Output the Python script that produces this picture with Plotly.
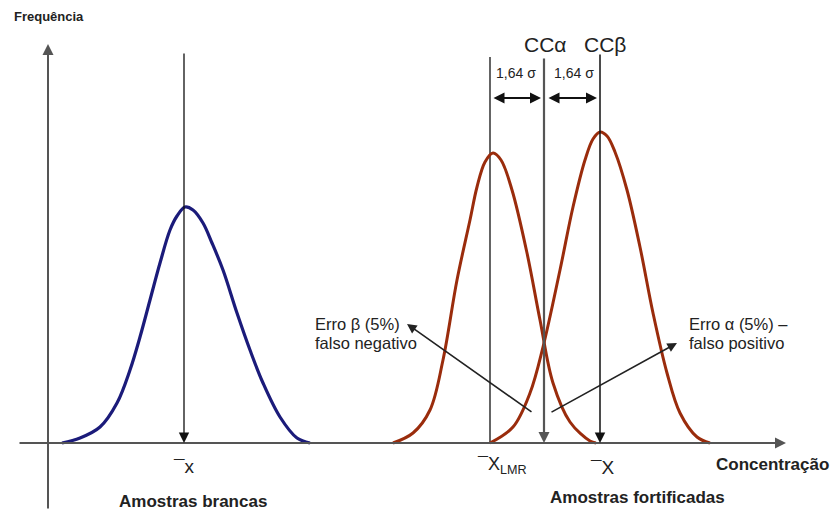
import plotly.graph_objects as go

# ---- data (pixel space: x right, y down) ----
blank_x = [62, 80, 100, 117, 130, 140, 150, 160, 170, 177, 185, 193, 203, 212, 223, 237, 250, 263, 280, 297, 310]
blank_y = [443, 438, 427, 403, 370, 337, 300, 263, 230, 216, 207, 210, 223, 243, 270, 313, 350, 383, 417, 438, 443]

lmr_x = [393, 413, 430, 443, 457, 470, 477, 485, 493, 501, 512, 527, 540, 553, 570, 590, 596]
lmr_y = [443, 433, 410, 360, 280, 220, 187, 162, 153, 160, 190, 253, 320, 383, 422, 441, 443]

fort_x = [490, 513, 530, 543, 560, 573, 585, 593, 600, 607, 615, 627, 640, 653, 667, 680, 697, 710]
fort_y = [443, 427, 393, 347, 270, 207, 160, 139, 132, 136, 152, 190, 247, 313, 373, 413, 437, 443]

BASE_Y = 443
X_BLANK, X_LMR, X_CCA, X_CCB = 184, 490, 544, 600

fig = go.Figure()

fig.add_trace(go.Scatter(x=blank_x, y=blank_y, mode="lines",
                         line=dict(color="#1b1b7a", width=3.2, shape="spline", smoothing=1.0),
                         hoverinfo="skip"))
fig.add_trace(go.Scatter(x=lmr_x, y=lmr_y, mode="lines",
                         line=dict(color="#9a2c0c", width=3, shape="spline", smoothing=1.0),
                         hoverinfo="skip"))
fig.add_trace(go.Scatter(x=fort_x, y=fort_y, mode="lines",
                         line=dict(color="#9a2c0c", width=3, shape="spline", smoothing=1.0),
                         hoverinfo="skip"))

shapes = []
shapes.append(dict(type="line", x0=X_LMR, x1=X_LMR, y0=57, y1=BASE_Y,
                   line=dict(color="#111", width=1.3), layer="below"))

annotations = []

def arrow(x_tip, y_tip, x_tail, y_tail, color="#111", width=1.3, size=1.3, side="end", head=2):
    annotations.append(dict(x=x_tip, y=y_tip, ax=x_tail, ay=y_tail,
                            xref="x", yref="y", axref="x", ayref="y",
                            text="", showarrow=True, arrowhead=head, startarrowhead=head,
                            arrowsize=size, startarrowsize=size,
                            arrowwidth=width, arrowcolor=color, arrowside=side,
                            standoff=0, startstandoff=0))

# axes
arrow(48, 44, 48, 510, color="#555", width=2, size=1.1)
arrow(786, BASE_Y, 18, BASE_Y, color="#555", width=2, size=1.1)
# vertical arrows
arrow(X_BLANK, BASE_Y, X_BLANK, 52, color="#111", width=1.3, size=1.6)
arrow(X_CCA, BASE_Y, X_CCA, 57, color="#555", width=2.2, size=1.0)
arrow(X_CCB, BASE_Y, X_CCB, 53, color="#111", width=1.5, size=1.4)
# 1,64 sigma double arrows
arrow(541, 98, 492, 98, color="#111", width=2, size=1.1, side="end+start")
arrow(597, 98, 547, 98, color="#111", width=2, size=1.1, side="end+start")
# error arrows
arrow(407, 324, 533, 413, color="#222", width=1.6, size=1.2)
arrow(677, 343, 550, 413, color="#222", width=1.6, size=1.2)

F = "Liberation Sans, Arial, sans-serif"
TXT = "#222"

def label(x, y, text, size=13, bold=False, anchor="center", color=TXT):
    t = f"<b>{text}</b>" if bold else text
    annotations.append(dict(x=x, y=y, xref="x", yref="y", text=t, showarrow=False,
                            xanchor=anchor, yanchor="middle",
                            font=dict(family=F, size=size, color=color)))

label(12, 16, "Frequência", size=13, bold=True, anchor="left")
label(545, 44, "CCα", size=21)
label(605, 44, "CCβ", size=21)
label(494, 73, "1,64 σ", size=14, anchor="left")
label(552, 73, "1,64 σ", size=14, anchor="left")
label(313, 324, "Erro β (5%)", size=16.5, anchor="left")
label(313, 343, "falso negativo", size=16.5, anchor="left")
label(687, 324, "Erro α (5%) –", size=16.5, anchor="left")
label(687, 343, "falso positivo", size=16.5, anchor="left")
label(183, 466, "¯x", size=19)
label(502, 465, "¯X<sub>LMR</sub>", size=18)
label(602, 467, "¯X", size=19)
label(714, 464, "Concentração", size=17, bold=True, anchor="left")
label(193, 501, "Amostras brancas", size=17, bold=True)
label(637, 497, "Amostras fortificadas", size=17, bold=True)

fig.update_layout(
    width=834, height=512,
    margin=dict(l=0, r=0, t=0, b=0),
    paper_bgcolor="white", plot_bgcolor="white",
    showlegend=False,
    xaxis=dict(range=[0, 834], visible=False, fixedrange=True),
    yaxis=dict(range=[512, 0], visible=False, fixedrange=True),
    shapes=shapes,
    annotations=annotations,
)

fig.write_html("out.html")
